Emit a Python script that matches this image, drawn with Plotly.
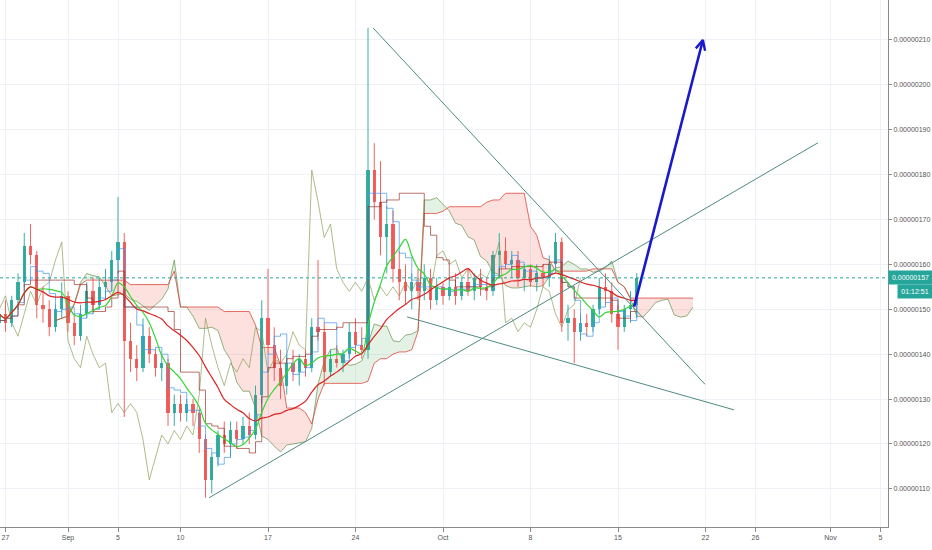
import numpy as np
import pandas as pd
import plotly.graph_objects as go

# ---------------- data (prices in satoshi = 1e-8) ----------------
START = "2018-08-26 12:00"          # 12h candles
opens = [147,149,147,152,156,164,162,151,150,146,
         150,153,147,144,149,154,151,155,156,161,
         165,143,139,137,144,140,137,138,127,129,
         127,129,127,121,112,117,122,120,123,121,
         124,122,131,148,142,137,133,138,136,139,
         137,146,145,136,139,138,140,145,142,141,
         181,174,166,169,159,156,154,156,154,157,
         152,155,153,155,153,156,154,157,155,154,
         162,163,160,161,157,159,156,158,157,160,
         165,147,148,145,147,146,150,155,154,149,
         146,150,151]
highs = [151,152,153,158,167,169,163,155,152,151,
         156,154,149,151,156,157,157,159,163,175,
         167,147,142,148,146,141,140,139,131,131,
         130,130,128,122,118,123,125,125,125,126,
         127,133,152,159,146,141,140,141,140,141,
         148,161,147,141,142,141,147,148,146,212.7,
         187,183,173,172,163,160,158,159,160,159,
         157,156,157,158,157,159,158,159,157,163,
         167,166,163,163,160,160,160,160,162,167,
         166,151,150,149,149,151,157,158,156,151,
         151,154,158]
lows = [144,145,146,150,155,160,148,147,144,145,
        148,145,142,143,148,149,150,152,154,158,
        126,136,134,136,138,135,134,124,124,125,
        125,124,118,108,109,115,118,117,119,120,
        120,121,129,140,134,130,131,134,133,135,
        136,143,133,135,137,136,139,140,139,139,
        170,162,158,156,152,151,150,152,152,150,
        151,151,152,151,152,153,152,153,152,153,
        158,159,157,155,154,155,154,155,155,159,
        145,143,138,143,144,145,149,151,147,141,
        145,147,148]
closes = [149,147,152,156,164,162,151,150,146,150,
          153,147,144,149,154,151,155,156,161,165,
          143,139,137,144,140,137,138,127,129,127,
          129,127,121,112,117,122,120,123,121,124,
          122,131,148,142,137,133,138,136,139,137,
          146,145,136,139,138,140,145,142,141,181,
          174,166,169,159,156,154,156,154,157,152,
          155,153,155,153,156,154,157,155,154,162,
          163,160,161,157,159,156,158,157,160,165,
          147,148,145,147,146,150,155,154,149,146,
          150,151,157]

x_tick_dates = ["2018-08-27", "2018-09-01", "2018-09-05", "2018-09-10", "2018-09-17",
                "2018-09-24", "2018-10-01", "2018-10-08", "2018-10-15", "2018-10-22",
                "2018-10-26", "2018-11-01", "2018-11-05"]
x_tick_text = ["27", "Sep", "5", "10", "17", "24", "Oct", "8", "15", "22", "26", "Nov", "5"]
price_ticks = [110, 120, 130, 140, 150, 160, 170, 180, 190, 200, 210]

# drawn trend lines (time, price)
tl_down_t = ["2018-09-25 09:30", "2018-10-21 23:00"]
tl_down_p = [212.7, 133.3]
tl_up_t = ["2018-09-12 06:40", "2018-10-31 00:00"]
tl_up_p = [108.0, 187.1]
tl_low_t = ["2018-09-28 03:00", "2018-10-24 06:40"]
tl_low_p = [148.3, 127.6]
arrow_t = ["2018-10-16 07:00", "2018-10-21 19:00"]
arrow_p = [150.6, 210.0]
countdown = "01:12:51"

# ---------------- layout geometry ----------------
W, Hh = 932, 550
ML, MR, MT, MB = 0, 44, 0, 23
X_RANGE = ["2018-08-26 13:26", "2018-11-05 14:24"]
Y_RANGE = [101.5, 218.9]
FONT = "Liberation Sans, Arial"

TEAL = "#26a69a"
RED = "#ef5350"

n = len(closes)
times = pd.date_range(START, periods=n, freq="12h")
Hs, Ls, Cs = pd.Series(highs, dtype=float), pd.Series(lows, dtype=float), pd.Series(closes, dtype=float)


def mid(p):
    return (Hs.rolling(p, min_periods=1).max() + Ls.rolling(p, min_periods=1).min()) / 2


tenkan = mid(3)
kijun = mid(9)
SHIFT = 9
span_a = ((tenkan + kijun) / 2).values
span_b = mid(17).values
times_ext = pd.date_range(START, periods=n + SHIFT, freq="12h")
cloud_t = times_ext[SHIFT:]
ma_fast = Cs.rolling(7, min_periods=1).mean()
ma_slow = Cs.rolling(17, min_periods=1).mean()

fig = go.Figure()

# ---- cloud fills ----
tnum = cloud_t.asi8 / 1e6
segs = []
cur = [(tnum[0], span_a[0], span_b[0])]
sign = span_a[0] >= span_b[0]
for i in range(len(tnum) - 1):
    a0, b0, a1, b1 = span_a[i], span_b[i], span_a[i + 1], span_b[i + 1]
    s1 = a1 >= b1
    if s1 != sign:
        d0, d1 = a0 - b0, a1 - b1
        f = d0 / (d0 - d1)
        tc = tnum[i] + f * (tnum[i + 1] - tnum[i])
        vc = a0 + f * (a1 - a0)
        cur.append((tc, vc, vc))
        segs.append((sign, cur))
        cur = [(tc, vc, vc)]
        sign = s1
    cur.append((tnum[i + 1], a1, b1))
segs.append((sign, cur))
for sg, pts in segs:
    ts = [p[0] for p in pts]
    xs = list(pd.to_datetime(ts, unit="ms")) + list(pd.to_datetime(ts[::-1], unit="ms"))
    ys = [p[1] for p in pts] + [p[2] for p in pts][::-1]
    fig.add_trace(go.Scatter(x=xs, y=ys, fill="toself", mode="none",
                             fillcolor="rgba(67,160,71,0.14)" if sg else "rgba(244,67,54,0.16)",
                             hoverinfo="skip", showlegend=False))

fig.add_trace(go.Scatter(x=cloud_t, y=span_a, mode="lines",
                         line=dict(color="rgba(90,140,60,0.65)", width=1), showlegend=False))
fig.add_trace(go.Scatter(x=cloud_t, y=span_b, mode="lines",
                         line=dict(color="rgba(220,60,50,0.75)", width=1), showlegend=False))

# ---- chikou (lagging) ----
fig.add_trace(go.Scatter(x=times[:-SHIFT], y=closes[SHIFT:], mode="lines",
                         line=dict(color="rgba(140,160,90,0.7)", width=1), showlegend=False))

# ---- candles: wicks + bodies ----
BODY_MS = 0.55 * 12 * 3600 * 1000
for up, col in ((True, TEAL), (False, RED)):
    idx = [i for i in range(n) if (closes[i] >= opens[i]) == up]
    wx, wy = [], []
    for i in idx:
        wx += [times[i], times[i], None]
        wy += [lows[i], highs[i], None]
    fig.add_trace(go.Scatter(x=wx, y=wy, mode="lines", line=dict(color=col, width=1),
                             opacity=0.9, showlegend=False, hoverinfo="skip"))
    fig.add_trace(go.Bar(x=[times[i] for i in idx],
                         y=[max(abs(closes[i] - opens[i]), 0.4) for i in idx],
                         base=[min(opens[i], closes[i]) for i in idx],
                         width=BODY_MS, marker=dict(color=col, line=dict(width=0)),
                         opacity=0.9, showlegend=False))

# ---- tenkan / kijun ----
fig.add_trace(go.Scatter(x=times, y=tenkan, mode="lines", line_shape="hv",
                         line=dict(color="rgba(66,150,240,0.7)", width=1), showlegend=False))
fig.add_trace(go.Scatter(x=times, y=kijun, mode="lines", line_shape="hv",
                         line=dict(color="rgba(150,40,30,0.65)", width=1), showlegend=False))

# ---- moving averages ----
fig.add_trace(go.Scatter(x=times, y=ma_fast, mode="lines", line_shape="spline",
                         line=dict(color="#33d633", width=1.2), showlegend=False))
fig.add_trace(go.Scatter(x=times, y=ma_slow, mode="lines", line_shape="spline",
                         line=dict(color="#dd2222", width=1.2), showlegend=False))

# ---- trend lines ----
for tt, pp in [(tl_down_t, tl_down_p), (tl_up_t, tl_up_p), (tl_low_t, tl_low_p)]:
    fig.add_trace(go.Scatter(x=pd.to_datetime(tt), y=pp, mode="lines",
                             line=dict(color="#4f8a83", width=1), showlegend=False))

# ---- blue arrow with open head ----
x0ms, x1ms = pd.Timestamp(X_RANGE[0]).value / 1e6, pd.Timestamp(X_RANGE[1]).value / 1e6
pw, ph = W - ML - MR, Hh - MT - MB
px_per_ms = pw / (x1ms - x0ms)
px_per_p = ph / (Y_RANGE[1] - Y_RANGE[0])
a0 = pd.Timestamp(arrow_t[0]).value / 1e6
a1 = pd.Timestamp(arrow_t[1]).value / 1e6
dx = (a1 - a0) * px_per_ms
dy = (arrow_p[1] - arrow_p[0]) * px_per_p
ln = np.hypot(dx, dy)
ux, uy = dx / ln, dy / ln
head_x, head_y = [], []
for ang in (0.45, -0.45):
    rx = ux * np.cos(ang) - uy * np.sin(ang)
    ry = ux * np.sin(ang) + uy * np.cos(ang)
    head_x.append(a1 - 11 * rx / px_per_ms)
    head_y.append(arrow_p[1] - 11 * ry / px_per_p)
fig.add_trace(go.Scatter(x=pd.to_datetime(arrow_t), y=arrow_p, mode="lines",
                         line=dict(color="#1818cc", width=2.6), showlegend=False))
fig.add_trace(go.Scatter(x=pd.to_datetime([head_x[0], a1, head_x[1]], unit="ms"),
                         y=[head_y[0], arrow_p[1], head_y[1]], mode="lines",
                         line=dict(color="#1818cc", width=2.4), showlegend=False))

# ---- current price line + labels ----
last = closes[-1]
fig.add_shape(type="line", xref="paper", x0=0, x1=1, yref="y", y0=last, y1=last,
              line=dict(color=TEAL, width=1, dash="dot"))
fig.add_annotation(xref="paper", x=1, xanchor="left", yref="y", y=last, yanchor="middle",
                   text=f"{last * 1e-8:.8f}", showarrow=False, bgcolor=TEAL,
                   font=dict(color="white", size=7, family=FONT),
                   width=43, height=13, borderpad=0, align="center")
fig.add_annotation(xref="paper", x=1, xanchor="left", xshift=9, yref="y", y=last, yanchor="middle",
                   yshift=-14, text=countdown, showarrow=False, bgcolor=TEAL,
                   font=dict(color="white", size=7, family=FONT),
                   width=34, height=13, borderpad=0, align="center")

fig.update_layout(
    width=W, height=Hh, margin=dict(l=ML, r=MR, t=MT, b=MB),
    paper_bgcolor="white", plot_bgcolor="white", showlegend=False,
    barmode="overlay", bargap=0,
    font=dict(family=FONT, size=7, color="#555"),
    xaxis=dict(range=pd.to_datetime(X_RANGE), tickvals=pd.to_datetime(x_tick_dates), ticktext=x_tick_text,
               showgrid=True, gridcolor="#eef1f6", gridwidth=1, zeroline=False,
               showline=True, linecolor="#8a8a8a", linewidth=1,
               ticks="outside", ticklen=4, tickcolor="#8a8a8a"),
    yaxis=dict(range=Y_RANGE, side="right", tickvals=price_ticks,
               ticktext=[f"{v * 1e-8:.8f}" for v in price_ticks],
               showgrid=True, gridcolor="#eef1f6", gridwidth=1, zeroline=False,
               showline=True, linecolor="#8a8a8a", linewidth=1,
               ticks="outside", ticklen=3, tickcolor="#8a8a8a"),
)

fig.write_html("out.html", config={"displayModeBar": False},
               post_script="document.body.style.margin='0';")
